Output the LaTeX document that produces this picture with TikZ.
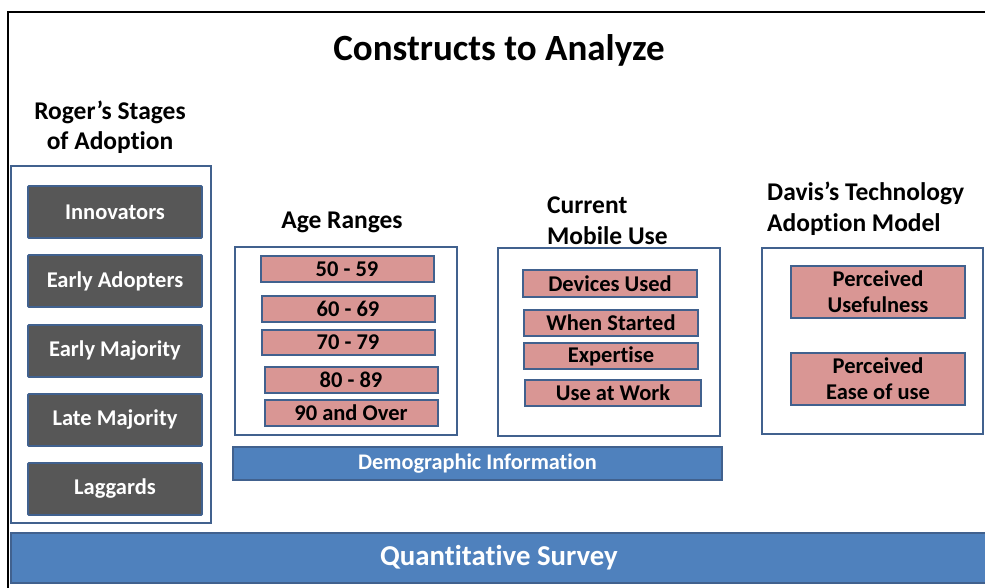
\documentclass[tikz,border=0pt]{standalone}
\usepackage{fontspec}
\setmainfont{Carlito}[Ligatures=NoCommon]
\definecolor{outl}{HTML}{41618E}
\definecolor{grayfill}{HTML}{575757}
\definecolor{pinkfill}{HTML}{D99694}
\definecolor{bluefill}{HTML}{4F81BD}
\begin{document}
\begin{tikzpicture}[x=1pt,y=-1pt,
  frame/.style={draw=outl,line width=2pt,fill=white},
  graybox/.style={draw=outl,line width=1.8pt,fill=grayfill,text=white,font=\bfseries\fontsize{22.5}{24}\selectfont,minimum width=174pt,minimum height=52pt,inner sep=0pt,rounded corners=1pt},
  pinkbox/.style={draw=outl,line width=2pt,fill=pinkfill,text=black,font=\bfseries\fontsize{22.5}{26}\selectfont,minimum width=173pt,inner sep=0pt,align=center},
  bluebar/.style={draw=outl,line width=1.5pt,fill=bluefill,text=white,inner sep=0pt},
  heading/.style={font=\bfseries\fontsize{25.5}{30.5}\selectfont,align=left,inner sep=0pt}
]
\useasboundingbox (0,0) rectangle (985,588);
\fill[white] (0,0) rectangle (985,588);
% outer frame
\draw[line width=2pt,black] (985,12) -- (8,12) -- (8,588);
\node[font=\bfseries\fontsize{37}{40}\selectfont,inner sep=0pt] (title) at (499,50) {Constructs to Analyze};

% Roger's stages
\node[heading,align=center] (rogerh) at (110,127) {Roger’s Stages\\of Adoption};
\draw[frame] (11,166) rectangle (211,523);
\node[graybox] (innov) at (115,212) {Innovators};
\node[graybox] (early) at (115,281) {Early Adopters};
\node[graybox] (emaj) at (115,351) {Early Majority};
\node[graybox] (lmaj) at (115,420) {Late Majority};
\node[graybox] (lag) at (115,489) {Laggards};

% Age ranges
\node[heading] (ageh) at (342,222) {Age Ranges};
\draw[frame] (235,247) rectangle (457,435);
\node[pinkbox,minimum height=26pt] (a50) at (347,269) {50 - 59};
\node[pinkbox,minimum height=26pt] (a60) at (348,309) {60 - 69};
\node[pinkbox,minimum height=25pt] (a70) at (348,342.5) {70 - 79};
\node[pinkbox,minimum height=26pt] (a80) at (351,380) {80 - 89};
\node[pinkbox,minimum height=26pt] (a90) at (351,413) {90 and Over};

% Current mobile use
\node[heading,anchor=west] (mobh) at (547,220.5) {Current\\Mobile Use};
\draw[frame] (498,248) rectangle (720,436);
\node[pinkbox,minimum height=27pt,minimum width=174pt] (dev) at (610,283.5) {Devices Used};
\node[pinkbox,minimum height=26pt,minimum width=174pt] (when) at (611,323) {When Started};
\node[pinkbox,minimum height=26pt,minimum width=174pt] (exp) at (611,356) {Expertise};
\node[pinkbox,minimum height=26pt,minimum width=176pt] (work) at (613,393) {Use at Work};

% Davis TAM
\node[heading,anchor=west] (davh) at (767,208.5) {Davis’s Technology\\Adoption Model};
\draw[frame] (762,248) rectangle (983,434);
\node[pinkbox,minimum height=52pt,minimum width=174pt] (pu) at (878,292) {Perceived\\Usefulness};
\node[pinkbox,minimum height=52pt,minimum width=174pt] (pe) at (878,379) {Perceived\\Ease of use};

% bars
\node[bluebar,minimum width=489pt,minimum height=33pt,font=\bfseries\fontsize{22.3}{24}\selectfont] (demo) at (477.5,463.5) {Demographic Information};
\node[bluebar,minimum width=976pt,minimum height=50pt,font=\bfseries\fontsize{28.8}{32}\selectfont] (quant) at (499,558) {Quantitative Survey};
\end{tikzpicture}
\end{document}
